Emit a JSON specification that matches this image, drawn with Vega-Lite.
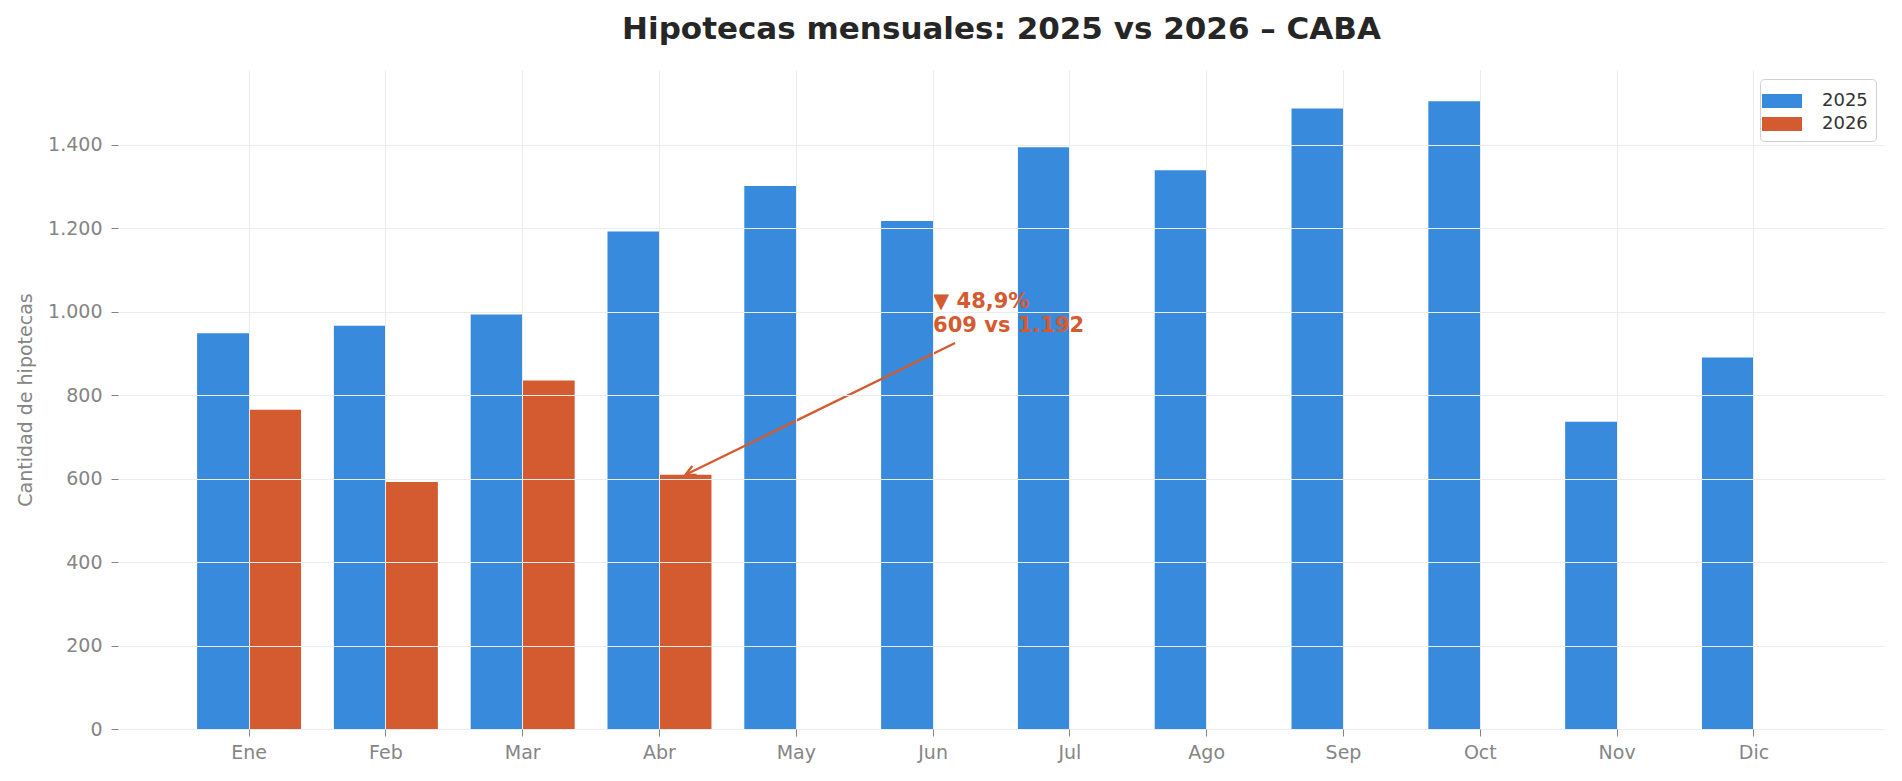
{
  "$schema": "https://vega.github.io/schema/vega-lite/v6.json",
  "autosize": {"type": "none"},
  "padding": {"left": 118, "top": 70, "right": 17, "bottom": 51},
  "width": 1767,
  "height": 659,
  "background": "white",
  "title": {
    "text": "Hipotecas mensuales: 2025 vs 2026 – CABA",
    "font": "DejaVu Sans",
    "fontSize": 31,
    "fontWeight": "bold",
    "color": "#262626",
    "anchor": "middle",
    "offset": 24
  },
  "datasets": {
    "hipotecas": [
      {"mes": "Ene", "anio": "2025", "valor": 948},
      {"mes": "Ene", "anio": "2026", "valor": 765},
      {"mes": "Feb", "anio": "2025", "valor": 966},
      {"mes": "Feb", "anio": "2026", "valor": 592},
      {"mes": "Mar", "anio": "2025", "valor": 993},
      {"mes": "Mar", "anio": "2026", "valor": 835},
      {"mes": "Abr", "anio": "2025", "valor": 1192},
      {"mes": "Abr", "anio": "2026", "valor": 609},
      {"mes": "May", "anio": "2025", "valor": 1301},
      {"mes": "Jun", "anio": "2025", "valor": 1217},
      {"mes": "Jul", "anio": "2025", "valor": 1394},
      {"mes": "Ago", "anio": "2025", "valor": 1339},
      {"mes": "Sep", "anio": "2025", "valor": 1487},
      {"mes": "Oct", "anio": "2025", "valor": 1504},
      {"mes": "Nov", "anio": "2025", "valor": 736},
      {"mes": "Dic", "anio": "2025", "valor": 890}
    ],
    "flecha": [
      {"desde": "Jun", "valor_desde": 925, "hasta": "Abr", "valor_hasta": 609}
    ],
    "punta": [
      {"mes": "Abr", "anio": "2026", "valor": 609}
    ],
    "nota": [
      {"mes": "Jun", "valor": 1000, "texto": ["▼ 48,9%", "609 vs 1.192"]}
    ]
  },
  "encoding": {
    "x": {
      "field": "mes",
      "type": "nominal",
      "scale": {
        "domain": ["Ene", "Feb", "Mar", "Abr", "May", "Jun", "Jul", "Ago", "Sep", "Oct", "Nov", "Dic"],
        "paddingInner": 0.24,
        "paddingOuter": 0.578
      },
      "axis": {
        "title": null,
        "labelAngle": 0,
        "labelFontSize": 19,
        "labelColor": "#858585",
        "labelPadding": 7,
        "tickColor": "#858585",
        "tickSize": 7,
        "domain": false,
        "grid": true,
        "gridColor": "#ececec",
        "bandPosition": 0.5,
        "zindex": 1
      }
    },
    "xOffset": {
      "field": "anio",
      "type": "nominal",
      "scale": {"domain": ["2025", "2026"], "paddingInner": 0, "paddingOuter": 0}
    },
    "y": {
      "field": "valor",
      "type": "quantitative",
      "scale": {"domain": [0, 1579], "nice": false, "zero": true},
      "axis": {
        "title": "Cantidad de hipotecas",
        "titleFontSize": 19,
        "titleFontWeight": "normal",
        "titleColor": "#858585",
        "titlePadding": 12,
        "values": [0, 200, 400, 600, 800, 1000, 1200, 1400],
        "labelExpr": "replace(format(datum.value, ','), ',', '.')",
        "labelFontSize": 19,
        "labelColor": "#858585",
        "labelPadding": 9,
        "tickColor": "#858585",
        "tickSize": 7,
        "domain": false,
        "grid": true,
        "gridColor": "#ececec",
        "zindex": 1
      }
    }
  },
  "layer": [
    {
      "data": {"name": "hipotecas"},
      "mark": {"type": "bar"},
      "encoding": {
        "color": {
          "field": "anio",
          "type": "nominal",
          "scale": {"domain": ["2025", "2026"], "range": ["#388ADC", "#D45A30"]},
          "legend": {
            "title": null,
            "orient": "top-right",
            "offset": 9,
            "labelFontSize": 18,
            "labelColor": "#333333",
            "labelOffset": 26,
            "symbolType": "M-1.43,-0.5H1.43V0.5H-1.43Z",
            "symbolSize": 784,
            "symbolStrokeWidth": 0,
            "strokeColor": "#d0d0d0",
            "fillColor": "white",
            "cornerRadius": 4,
            "padding": 8,
            "rowPadding": 0
          }
        }
      }
    },
    {
      "data": {"name": "flecha"},
      "mark": {
        "type": "rule",
        "color": "#D45A30",
        "strokeWidth": 2.3,
        "xOffset": 22,
        "x2Offset": 26,
        "zindex": 2
      },
      "encoding": {
        "x": {"field": "desde", "type": "nominal"},
        "x2": {"field": "hasta"},
        "y": {"field": "valor_desde", "type": "quantitative"},
        "y2": {"field": "valor_hasta"},
        "xOffset": null
      }
    },
    {
      "data": {"name": "punta"},
      "mark": {
        "type": "point",
        "shape": "M-1,-0.5L0,0L-1,0.5",
        "size": 400,
        "filled": false,
        "stroke": "#D45A30",
        "strokeWidth": 2.3,
        "angle": 154,
        "opacity": 1,
        "zindex": 2
      },
      "encoding": {}
    },
    {
      "data": {"name": "nota"},
      "mark": {
        "type": "text",
        "align": "left",
        "baseline": "bottom",
        "fontSize": 21,
        "fontWeight": "bold",
        "color": "#D45A30",
        "lineHeight": 24,
        "zindex": 2
      },
      "encoding": {
        "xOffset": null,
        "text": {"field": "texto"}
      }
    }
  ],
  "config": {
    "font": "DejaVu Sans",
    "view": {"stroke": null}
  }
}
